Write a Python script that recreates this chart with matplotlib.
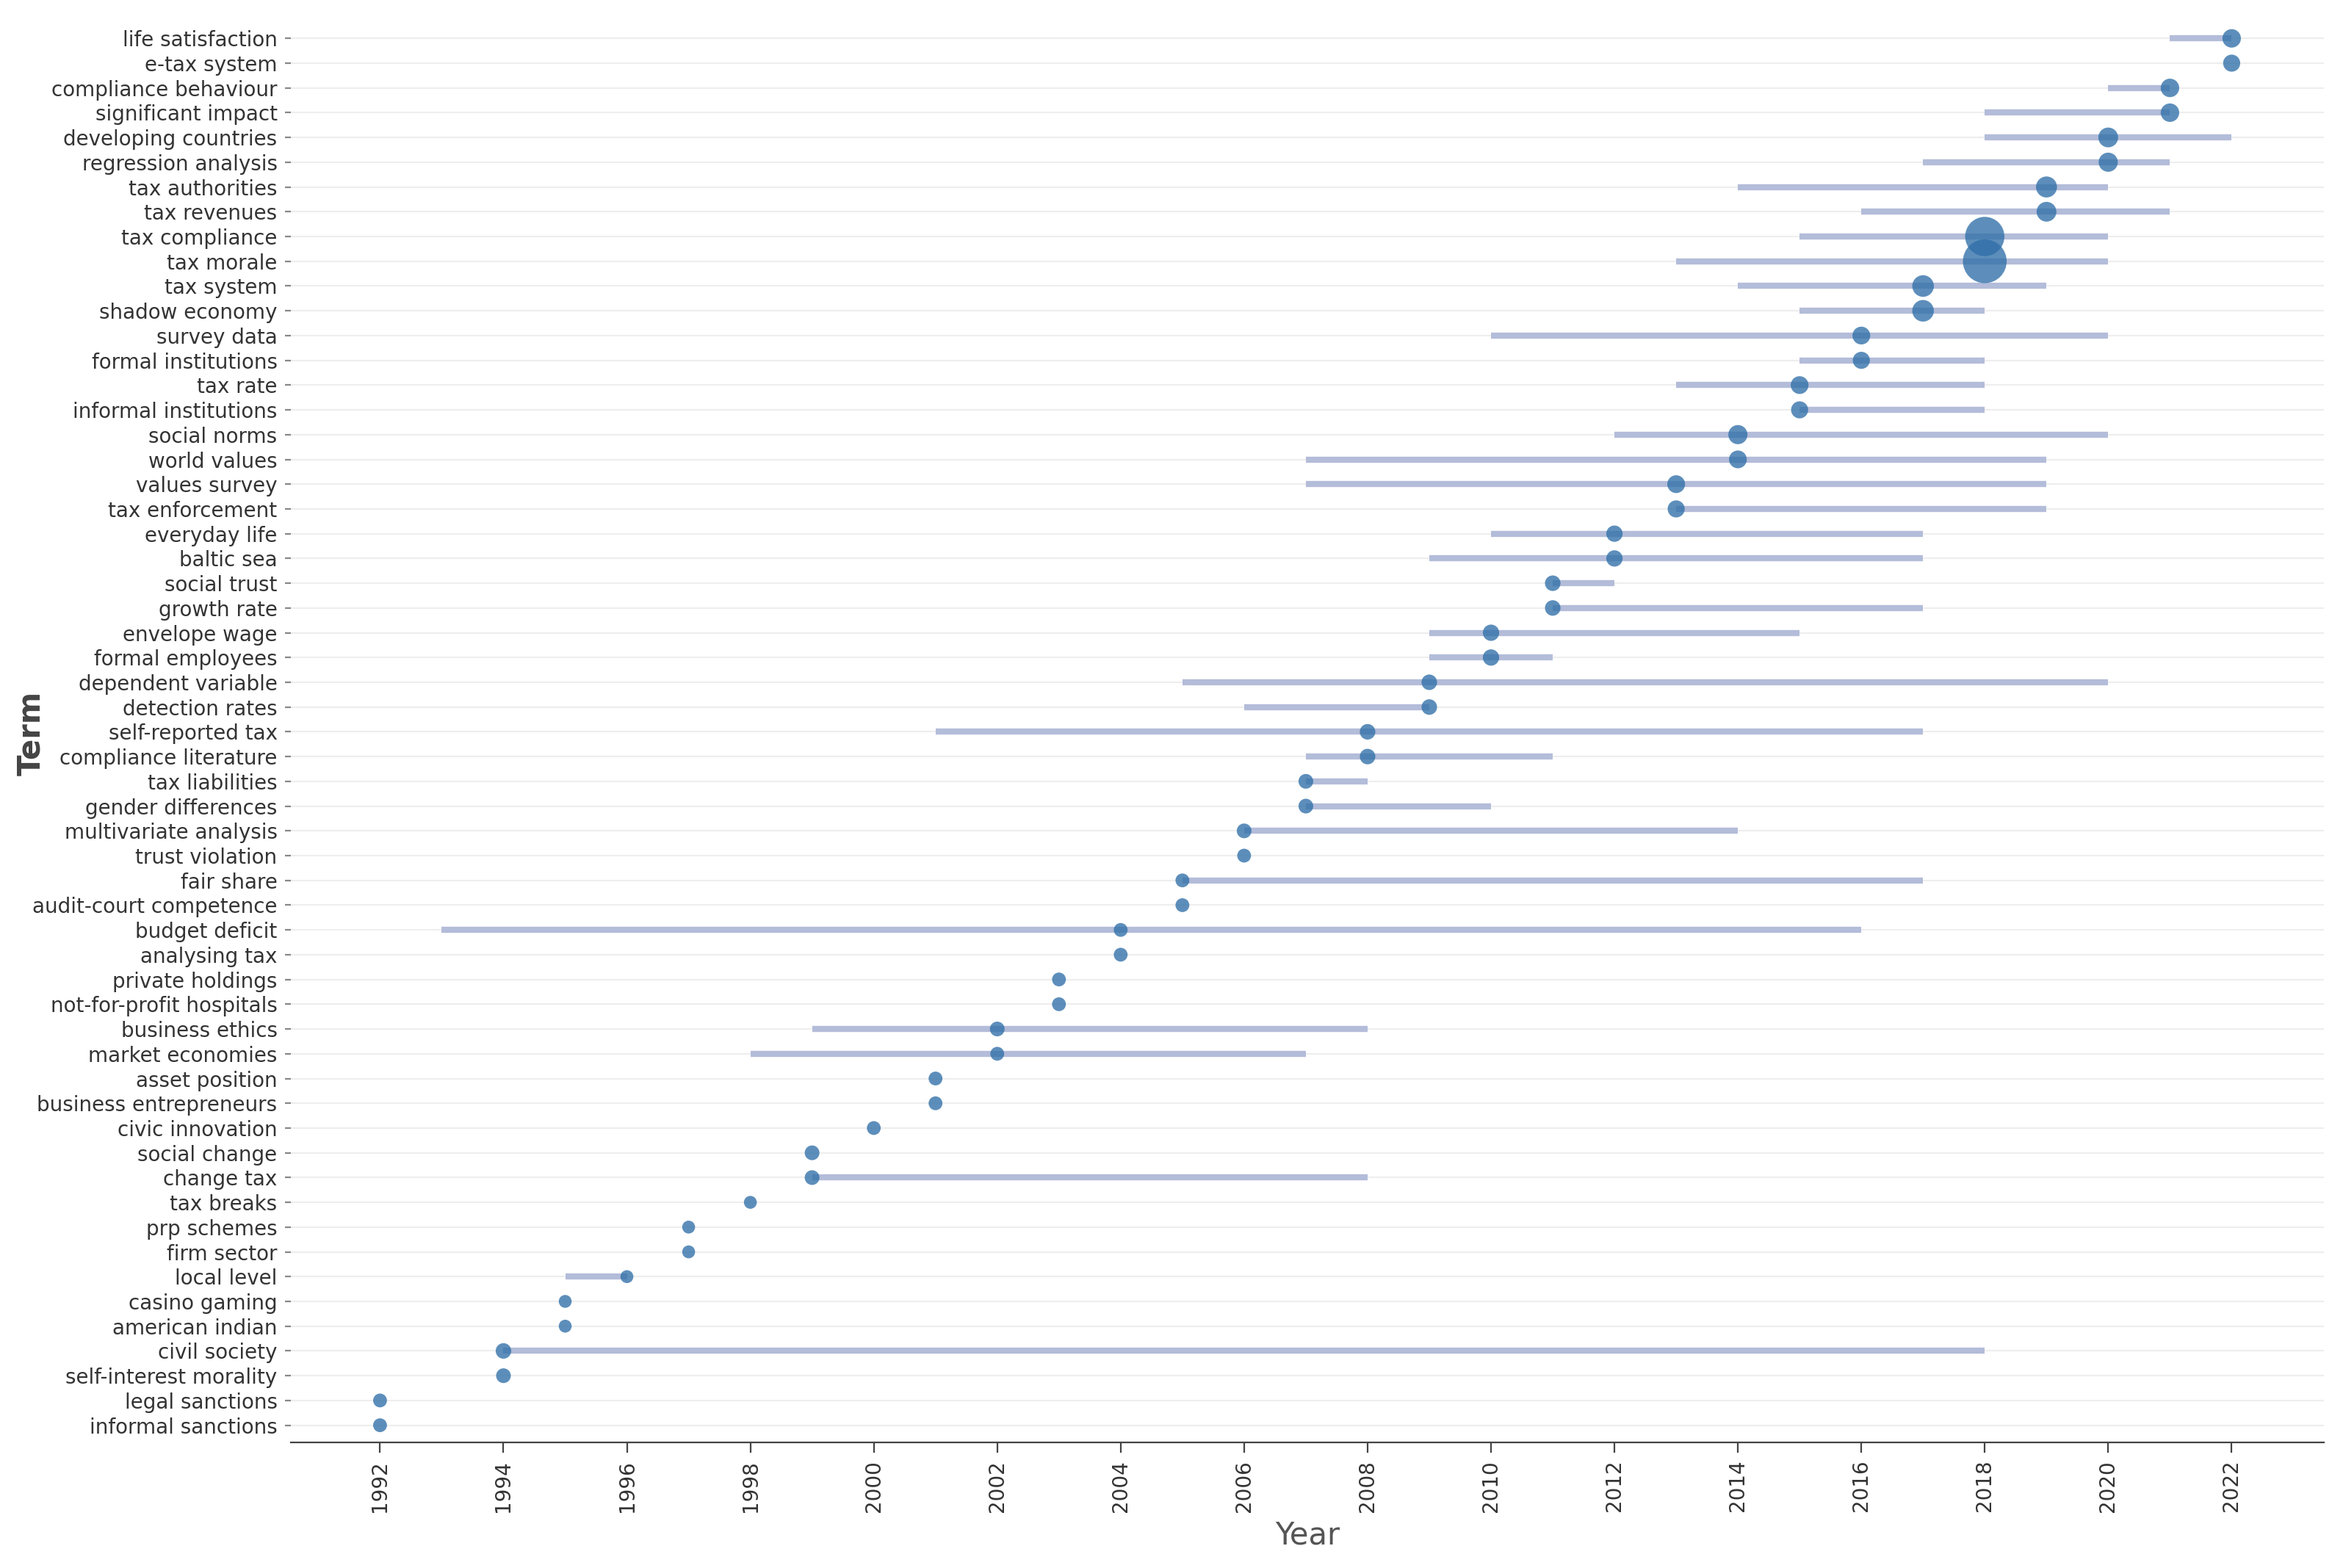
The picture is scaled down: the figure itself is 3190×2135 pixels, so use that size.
import matplotlib
matplotlib.use("Agg")
import matplotlib.pyplot as plt

terms = ["life satisfaction","e-tax system","compliance behaviour","significant impact","developing countries",
"regression analysis","tax authorities","tax revenues","tax compliance","tax morale","tax system","shadow economy",
"survey data","formal institutions","tax rate","informal institutions","social norms","world values","values survey",
"tax enforcement","everyday life","baltic sea","social trust","growth rate","envelope wage","formal employees",
"dependent variable","detection rates","self-reported tax","compliance literature","tax liabilities","gender differences",
"multivariate analysis","trust violation","fair share","audit-court competence","budget deficit","analysing tax",
"private holdings","not-for-profit hospitals","business ethics","market economies","asset position",
"business entrepreneurs","civic innovation","social change","change tax","tax breaks","prp schemes","firm sector",
"local level","casino gaming","american indian","civil society","self-interest morality","legal sanctions","informal sanctions"]
median = [2022,2022,2021,2021,2020,2020,2019,2019,2018,2018,2017,2017,2016,2016,2015,2015,2014,2014,2013,2013,
2012,2012,2011,2011,2010,2010,2009,2009,2008,2008,2007,2007,2006,2006,2005,2005,2004,2004,2003,2003,2002,2002,
2001,2001,2000,1999,1999,1998,1997,1997,1996,1995,1995,1994,1994,1992,1992]
q1 = [2021,2022,2020,2018,2018,2017,2014,2016,2015,2013,2014,2015,2010,2015,2013,2015,2012,2007,2007,2013,
2010,2009,2011,2011,2009,2009,2005,2006,2001,2007,2007,2007,2006,2006,2005,2005,1993,2004,2003,2003,1999,1998,
2001,2001,2000,1999,1999,1998,1997,1997,1995,1995,1995,1994,1994,1992,1992]
q3 = [2022,2022,2021,2021,2022,2021,2020,2021,2020,2020,2019,2018,2020,2018,2018,2018,2020,2019,2019,2019,
2017,2017,2012,2017,2015,2011,2020,2009,2017,2011,2008,2010,2014,2006,2017,2005,2016,2004,2003,2003,2008,2007,
2001,2001,2000,1999,2008,1998,1997,1997,1996,1995,1995,2018,1994,1992,1992]
freq = [12,10,12,12,14,13,16,14,60,75,17,17,11,10,11,10,13,11,11,10,9,9,8,8,9,9,8,8,8,8,7,7,7,6,6,6,6,6,6,6,
7,6,6,6,6,7,7,5,5,5,5,5,5,8,7,6,6]

fig, ax = plt.subplots(figsize=(15.95, 10.675), dpi=200)
fig.subplots_adjust(left=0.124, right=0.992, top=0.985, bottom=0.08)
n = len(terms)
ys = [n - 1 - i for i in range(n)]
for y in ys:
    ax.axhline(y, color="#eeeeee", lw=0.8, zorder=0)
ax.hlines(ys, q1, q3, color="#b3bcd9", lw=3, zorder=1)
ax.scatter(median, ys, s=[f * 6 + 10 for f in freq], color="#2f6fa8", alpha=0.78, edgecolors="none", zorder=2)
ax.set_yticks(ys)
ax.set_yticklabels(terms, fontsize=10, color="#333333")
ax.set_xticks(range(1992, 2023, 2))
ax.set_xticklabels([str(v) for v in range(1992, 2023, 2)], rotation=90, fontsize=10, color="#333333")
ax.set_xlim(1990.55, 2023.5)
ax.set_ylim(-0.7, n - 0.4)
for s in ["top", "right", "left"]:
    ax.spines[s].set_visible(False)
ax.spines["bottom"].set_color("#444444")
ax.tick_params(axis="y", length=3, color="#888888")
ax.tick_params(axis="x", length=5, color="#444444")
ax.set_xlabel("Year", fontsize=15, color="#555555")
ax.set_ylabel("Term", fontsize=15, fontweight="bold", color="#444444")
ax.yaxis.set_label_coords(-0.12, 0.5)
fig.savefig("out.png")
